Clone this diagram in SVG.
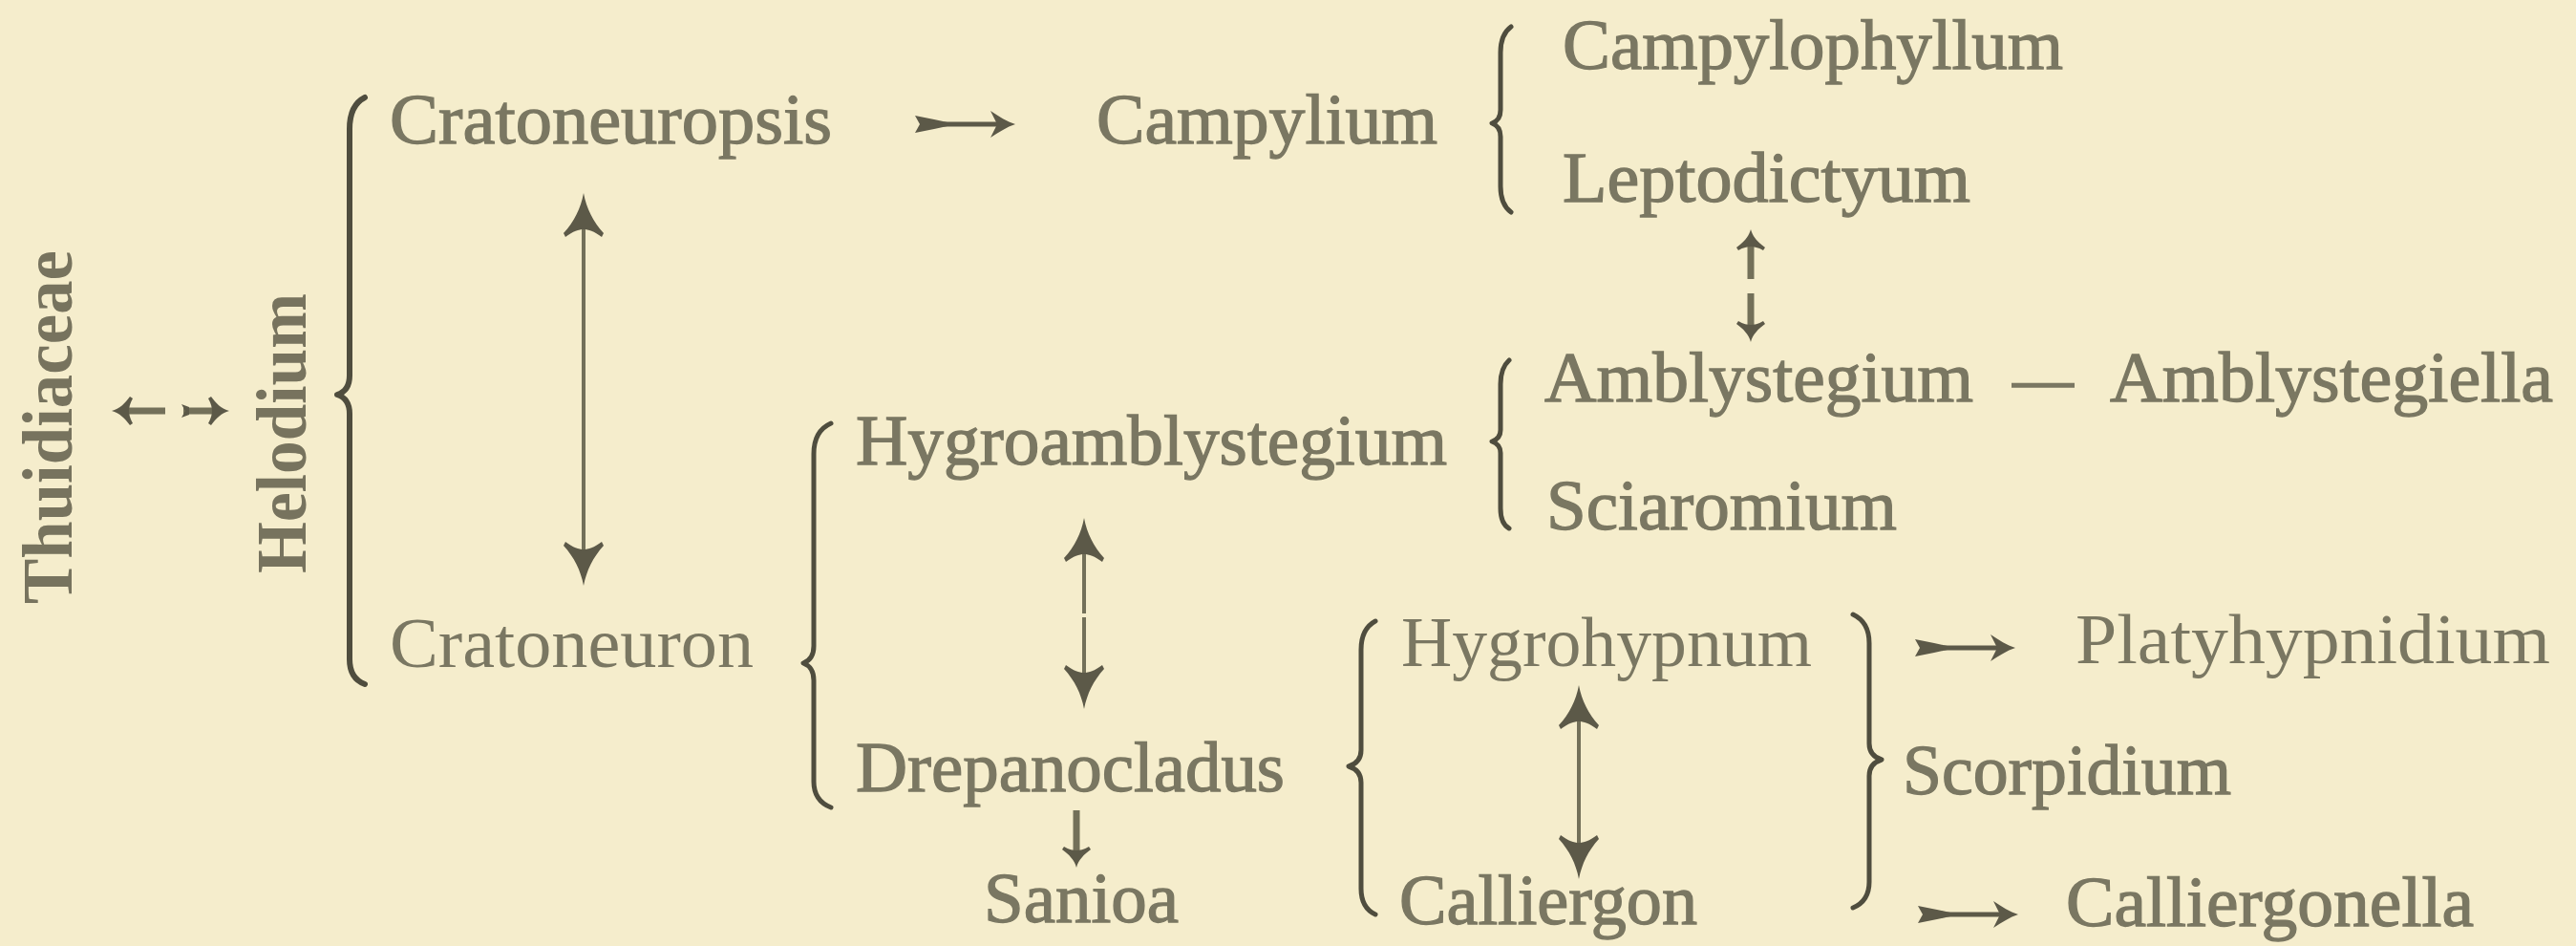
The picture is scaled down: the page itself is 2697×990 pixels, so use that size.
<svg xmlns="http://www.w3.org/2000/svg" width="2697" height="990" viewBox="0 0 2697 990">
<style>
.t{font-family:"Liberation Serif","DejaVu Serif",serif;font-size:74px;fill:#7a7762;stroke:#7a7762;stroke-width:1.3px;}
.lt{stroke-width:0;}
.v{font-family:"Liberation Serif","DejaVu Serif",serif;font-size:74px;font-weight:bold;fill:#77735e;}
.br{fill:none;stroke:#4f4d3e;stroke-width:5;stroke-linecap:round;stroke-linejoin:round;}
.sh{stroke:#737059;stroke-width:4;fill:none;}
.ss{stroke:#737059;stroke-width:7;fill:none;}
.hd{fill:#5c5948;}
</style>
<defs>
<path id="headUp" d="M0,0 C3,16 10,30 21,42 L19,46 C11,40 5,38 0,38 C-5,38 -11,40 -19,46 L-21,42 C-10,30 -3,16 0,0 Z"/>
<path id="sHead" d="M0,0 C2,8 8,14 15,19 L13,22 C8,19 3,18 0,18 C-3,18 -8,19 -13,22 L-15,19 C-8,14 -2,8 0,0 Z"/>
<g id="harrow">
<path d="M0,-9 L20,-5 L34,-2 L34,2 L20,5 L0,9 L5,0 Z"/>
<rect x="30" y="-2.5" width="62" height="5"/>
<path d="M105,0 C96,-3 88,-8 79,-14 L86,0 L79,14 C88,8 96,3 105,0 Z"/>
</g>
</defs>
<rect width="2697" height="990" fill="#f5edcc"/>

<g id="connectors">
<path class="br" style="stroke-width:6" d="M382,102 Q366,110 366,135 L366,393 Q366,409 353,413 Q366,417 366,433 L366,690 Q366,710 382,716"/>
<path class="br" d="M1582,28 Q1571,36 1571,55 L1571,115 Q1571,126 1562,129 Q1571,132 1571,143 L1571,195 Q1571,214 1582,222"/>
<path class="br" d="M1580,377 Q1571,385 1571,402 L1571,450 Q1571,459 1562,462 Q1571,465 1571,474 L1571,532 Q1571,548 1580,553"/>
<path class="br" d="M870,443 Q852,451 852,475 L852,676 Q852,690 841,694 Q852,698 852,712 L852,818 Q852,838 870,845"/>
<path class="br" d="M1440,650 Q1425,658 1425,680 L1425,785 Q1425,798 1412,802 Q1425,806 1425,819 L1425,930 Q1425,950 1440,957"/>
<path class="br" d="M1940,643 Q1957,651 1957,673 L1957,778 Q1957,791 1970,795 Q1957,799 1957,812 L1957,923 Q1957,943 1940,950"/>
<line class="sh" x1="611" y1="238" x2="611" y2="578"/>
<use href="#headUp" class="hd" transform="translate(611,202)"/>
<use href="#headUp" class="hd" transform="translate(611,613) rotate(180)"/>
<line class="sh" x1="1135" y1="578" x2="1135" y2="642"/>
<line class="sh" x1="1135" y1="646" x2="1135" y2="706"/>
<use href="#headUp" class="hd" transform="translate(1135,542)"/>
<use href="#headUp" class="hd" transform="translate(1135,742) rotate(180)"/>
<line class="sh" x1="1653" y1="753" x2="1653" y2="884"/>
<use href="#headUp" class="hd" transform="translate(1653,717)"/>
<use href="#headUp" class="hd" transform="translate(1653,920) rotate(180)"/>
<line class="ss" x1="1833" y1="256" x2="1833" y2="292"/>
<use href="#sHead" class="hd" transform="translate(1833,240)"/>
<line class="ss" x1="1833" y1="307" x2="1833" y2="342"/>
<use href="#sHead" class="hd" transform="translate(1833,358) rotate(180)"/>
<line class="ss" x1="1127" y1="848" x2="1127" y2="892"/>
<use href="#sHead" class="hd" transform="translate(1127,908) rotate(180)"/>
<line class="ss" x1="133" y1="430" x2="173" y2="430"/>
<use href="#sHead" class="hd" transform="translate(117,430) rotate(-90)"/>
<line class="ss" x1="192" y1="430" x2="226" y2="430"/>
<path class="hd" d="M190,423 L198,426 L198,434 L190,437 L194,430 Z"/>
<use href="#sHead" class="hd" transform="translate(240,430) rotate(90)"/>
<use href="#harrow" class="hd" transform="translate(958,130)"/>
<use href="#harrow" class="hd" transform="translate(2005,678)"/>
<use href="#harrow" class="hd" transform="translate(2008,957)"/>
</g>

<g id="n-thuidiaceae"><text class="v" transform="translate(75,632) rotate(-90)" textLength="370" lengthAdjust="spacingAndGlyphs">Thuidiaceae</text></g>
<g id="n-helodium"><text class="v" transform="translate(320,600) rotate(-90)" textLength="293" lengthAdjust="spacingAndGlyphs">Helodium</text></g>
<g id="n-cratoneuropsis"><text class="t" x="408" y="150" textLength="463" lengthAdjust="spacingAndGlyphs">Cratoneuropsis</text></g>
<g id="n-campylium"><text class="t" x="1148" y="150" textLength="357" lengthAdjust="spacingAndGlyphs">Campylium</text></g>
<g id="n-campylophyllum"><text class="t" x="1636" y="72" textLength="524" lengthAdjust="spacingAndGlyphs">Campylophyllum</text></g>
<g id="n-leptodictyum"><text class="t" x="1636" y="211" textLength="427" lengthAdjust="spacingAndGlyphs">Leptodictyum</text></g>
<g id="n-amblystegium"><text class="t" x="1617" y="420" textLength="449" lengthAdjust="spacingAndGlyphs">Amblystegium</text><text class="t" x="2107" y="420" textLength="64" lengthAdjust="spacingAndGlyphs">—</text></g>
<g id="n-amblystegiella"><text class="t" x="2209" y="420" textLength="464" lengthAdjust="spacingAndGlyphs">Amblystegiella</text></g>
<g id="n-hygroamblystegium"><text class="t" x="896" y="486" textLength="619" lengthAdjust="spacingAndGlyphs">Hygroamblystegium</text></g>
<g id="n-sciaromium"><text class="t" x="1619" y="554" textLength="367" lengthAdjust="spacingAndGlyphs">Sciaromium</text></g>
<g id="n-cratoneuron"><text class="t lt" x="408" y="698" textLength="381" lengthAdjust="spacingAndGlyphs">Cratoneuron</text></g>
<g id="n-hygrohypnum"><text class="t lt" x="1467" y="697" textLength="430" lengthAdjust="spacingAndGlyphs">Hygrohypnum</text></g>
<g id="n-platyhypnidium"><text class="t lt" x="2173" y="694" textLength="497" lengthAdjust="spacingAndGlyphs">Platyhypnidium</text></g>
<g id="n-scorpidium"><text class="t" x="1992" y="831" textLength="344" lengthAdjust="spacingAndGlyphs">Scorpidium</text></g>
<g id="n-drepanocladus"><text class="t" x="896" y="828" textLength="449" lengthAdjust="spacingAndGlyphs">Drepanocladus</text></g>
<g id="n-sanioa"><text class="t" x="1030" y="965" textLength="204" lengthAdjust="spacingAndGlyphs">Sanioa</text></g>
<g id="n-calliergon"><text class="t" x="1465" y="967" textLength="312" lengthAdjust="spacingAndGlyphs">Calliergon</text></g>
<g id="n-calliergonella"><text class="t" x="2163" y="969" textLength="427" lengthAdjust="spacingAndGlyphs">Calliergonella</text></g>
</svg>
